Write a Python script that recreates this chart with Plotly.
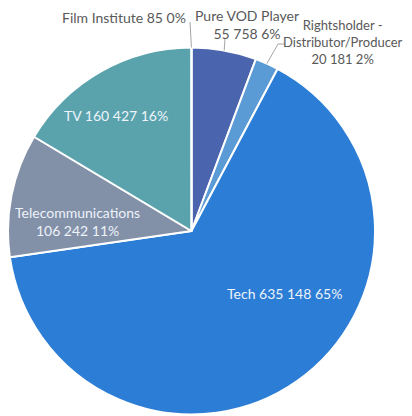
import math

import plotly.graph_objects as go

# page body has an 8px margin, so the figure is drawn 8px in from the top-left
OFF = 8
W, H = 412 - OFF, 416 - OFF

# ---------------------------------------------------------------------------
# Data
# ---------------------------------------------------------------------------
categories = [
    "Pure VOD Player",
    "Rightsholder - Distributor/Producer",
    "Tech",
    "Telecommunications",
    "TV",
    "Film Institute",
]
values = [55758, 20181, 635148, 106242, 160427, 85]
colors = ["#4a64ad", "#5b9bd5", "#2b7dd6", "#8290a8", "#5aa3ad", "#4f81bd"]

# label text split into lines (as in the source chart)
label_lines = [
    ["Pure VOD Player"],
    ["Rightsholder -", "Distributor/Producer"],
    ["Tech"],
    ["Telecommunications"],
    ["TV"],
    ["Film Institute"],
]

# pie geometry in screen pixels
CX, CY, R = 191.5, 231.0, 183.5

# label anchor positions (screen pixels), font size, inside-slice flag
label_pos = [(247, 25), (343, 42), (284, 293), (77, 221), (116, 116), (124, 17)]
label_size = [14, 13, 14, 14, 14, 14]
inside = [False, False, True, True, True, False]
# leader line end points (screen pixels) for outside labels
leader_ends = {0: [(225, 38)], 1: [(278, 44), (284, 44)], 5: [(190, 22)]}


def px(x):
    return (x - OFF) / W


def py(y):
    return 1 - (y - OFF) / H


def fmt(v):
    return f"{v:,}".replace(",", " ")


total = sum(values)

fig = go.Figure(
    go.Pie(
        labels=categories,
        values=values,
        sort=False,
        direction="clockwise",
        rotation=0,
        marker=dict(colors=colors, line=dict(color="white", width=2)),
        textinfo="none",
        hoverinfo="skip",
        showlegend=False,
        domain=dict(x=[px(CX - R), px(CX + R)], y=[py(CY + R), py(CY - R)]),
    )
)

cum = 0
for i, (name, v) in enumerate(zip(categories, values)):
    mid = (cum + v / 2) / total * 2 * math.pi
    cum += v
    pct = f"{round(v / total * 100)}%"
    lines = label_lines[i]
    tail = f"{fmt(v)} {pct}"
    if name in ("Tech", "TV", "Film Institute"):
        text = f"{lines[0]} {tail}"
    else:
        text = "<br>".join(lines + [tail])
    fig.add_annotation(
        x=px(label_pos[i][0]),
        y=py(label_pos[i][1]),
        xref="paper",
        yref="paper",
        text=text,
        showarrow=False,
        xanchor="center",
        yanchor="middle",
        borderpad=0,
        font=dict(
            family="Lato, 'Open Sans', sans-serif",
            size=label_size[i],
            color="#eef3fa" if inside[i] else "#595959",
        ),
    )
    if i in leader_ends:
        sx = CX + R * math.sin(mid)
        sy = CY - R * math.cos(mid)
        pts = [(sx, sy)] + leader_ends[i]
        path = "M " + " L ".join(f"{px(a)},{py(b)}" for a, b in pts)
        fig.add_shape(
            type="path",
            path=path,
            xref="paper",
            yref="paper",
            line=dict(color="#a6a6a6", width=1),
        )

fig.update_layout(
    width=W,
    height=H,
    margin=dict(l=0, r=0, t=0, b=0),
    paper_bgcolor="white",
    plot_bgcolor="white",
)

fig.write_html("out.html")
